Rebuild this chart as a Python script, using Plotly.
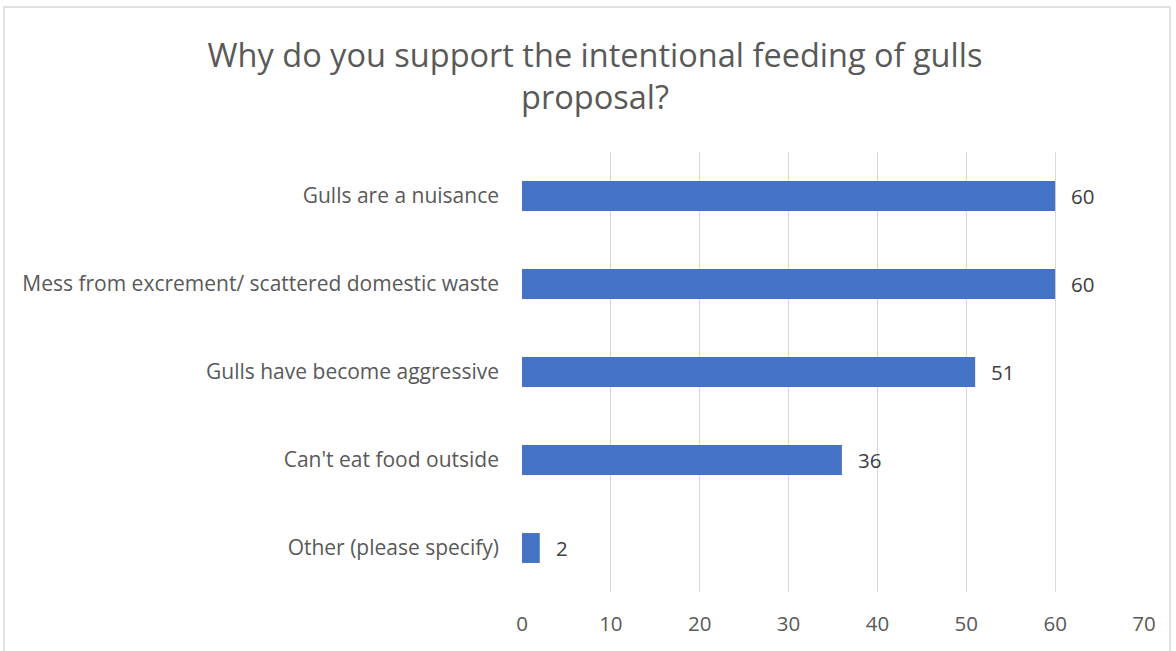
import plotly.graph_objects as go

categories = ["Gulls are a nuisance",
              "Mess from excrement/ scattered domestic waste",
              "Gulls have become aggressive",
              "Can't eat food outside",
              "Other (please specify)"]
values = [60, 60, 51, 36, 2]
x_ticks = [0, 10, 20, 30, 40, 50, 60, 70]

FONT = "Open Sans"
GREY = "#595959"

W, H = 1176, 651
ML, MR, MT, MB = 522, 32, 152, 59
PW, PH = W - ML - MR, H - MT - MB

fig = go.Figure(go.Bar(
    x=values, y=categories, orientation="h",
    marker=dict(color="#4472C4", line=dict(width=0)),
    width=0.34, hoverinfo="x+y",
))

for v, c in zip(values, categories):
    fig.add_annotation(x=v, y=c, text=str(v), showarrow=False,
                       xanchor="left", xshift=14,
                       font=dict(family=FONT, size=20.5, color="#404040"))

fig.update_layout(
    width=W, height=H,
    paper_bgcolor="white", plot_bgcolor="white",
    margin=dict(l=ML, r=MR, t=MT, b=MB),
    title=dict(text="Why do you support the intentional feeding of gulls<br>proposal?",
               x=595 / W, xanchor="center", y=1 - 67 / H, yanchor="top",
               font=dict(family=FONT, size=32.5, color=GREY)),
    xaxis=dict(range=[0, 70], tickvals=x_ticks, showgrid=True,
               gridcolor="#d9d9d9", gridwidth=1.3, zeroline=False,
               showline=False, ticks="", ticklabelstandoff=17,
               tickfont=dict(family=FONT, size=20.5, color=GREY)),
    yaxis=dict(categoryorder="array", categoryarray=categories[::-1],
               showgrid=False, zeroline=False, showline=False, ticks="",
               ticklabelstandoff=22,
               tickfont=dict(family=FONT, size=21, color=GREY)),
    showlegend=False,
    shapes=[dict(type="rect", xref="paper", yref="paper",
                 x0=(4 - ML) / PW, x1=1 + (1170 - (W - MR)) / PW,
                 y0=-(MB + 5) / PH, y1=1 + (MT - 7) / PH,
                 line=dict(color="#d9d9d9", width=1.5), layer="below")],
)

fig.write_html("out.html", config={"displayModeBar": False},
               post_script="document.body.style.margin='0';")
